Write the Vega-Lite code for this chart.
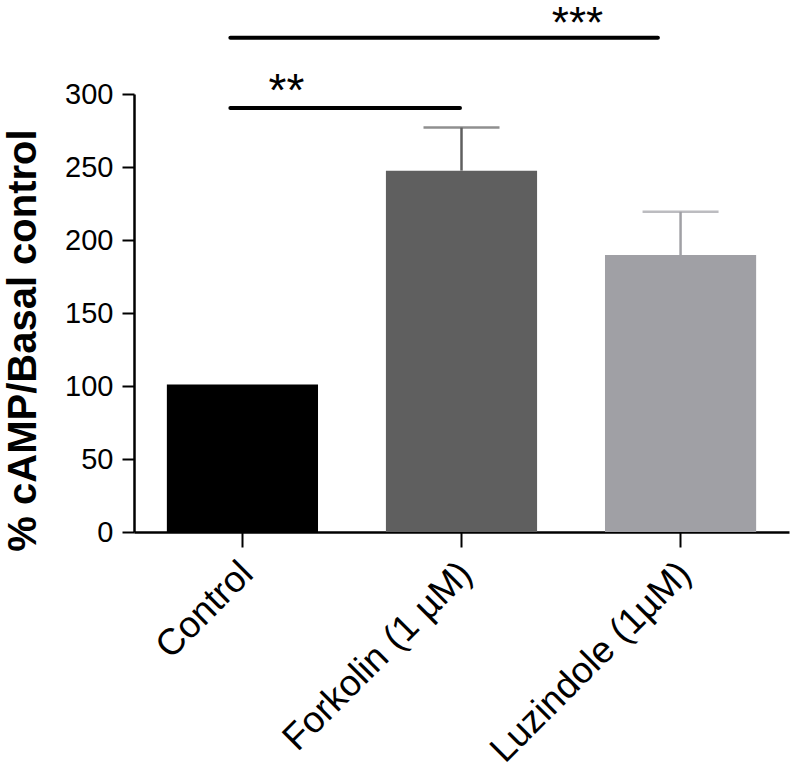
{
  "$schema": "https://vega.github.io/schema/vega-lite/v6.json",
  "width": 655,
  "height": 438,
  "autosize": {"type": "none"},
  "padding": {"left": 134, "top": 94, "right": 11, "bottom": 239},
  "background": "white",
  "config": {"view": {"stroke": null}, "font": "Liberation Sans"},
  "datasets": {
    "bars": [
      {"group": "Control", "mean": 101},
      {"group": "Forkolin (1 µM)", "mean": 247.5, "upper": 277},
      {"group": "Luzindole (1µM)", "mean": 189.7, "upper": 219.3}
    ]
  },
  "layer": [
    {
      "data": {"name": "bars"},
      "mark": {"type": "bar"},
      "encoding": {
        "x": {
          "field": "group", "type": "nominal", "sort": null,
          "scale": {"domain": ["Control", "Forkolin (1 µM)", "Luzindole (1µM)"], "paddingInner": 0.31, "paddingOuter": 0.15},
          "axis": {
            "title": null, "labelAngle": -45, "labelFontSize": 37, "labelColor": "black",
            "labelPadding": 8, "labelOffset": -8, "labelLimit": 0, "domainColor": "black", "domainWidth": 2.5,
            "tickColor": "black", "tickWidth": 2, "tickSize": 15, "labelFont": "Liberation Sans"
          }
        },
        "y": {
          "field": "mean", "type": "quantitative",
          "scale": {"domain": [0, 300], "nice": false},
          "axis": {
            "values": [0, 50, 100, 150, 200, 250, 300], "grid": false,
            "title": "% cAMP/Basal control", "titleFontSize": 40, "titleFontWeight": "bold",
            "titleColor": "black", "titleX": -99, "titleY": 246, "titleAngle": -90,
            "titleAlign": "center", "titleBaseline": "alphabetic",
            "labelFontSize": 29, "labelColor": "black", "labelPadding": 9,
            "domainColor": "black", "domainWidth": 2.5, "tickColor": "black",
            "tickWidth": 2, "tickSize": 12
          }
        },
        "color": {
          "field": "group", "type": "nominal", "sort": null,
          "scale": {"domain": ["Control", "Forkolin (1 µM)", "Luzindole (1µM)"], "range": ["#000000", "#5f5f5f", "#a0a0a5"]},
          "legend": null
        }
      }
    },
    {
      "data": {"name": "bars"},
      "transform": [{"filter": "isValid(datum.upper)"}],
      "mark": {"type": "rule", "strokeWidth": 2.5},
      "encoding": {
        "x": {"field": "group", "type": "nominal", "sort": null},
        "y": {"field": "mean", "type": "quantitative"},
        "y2": {"field": "upper"},
        "color": {"field": "group", "type": "nominal", "sort": null, "legend": null}
      }
    },
    {
      "data": {"name": "bars"},
      "transform": [{"filter": "isValid(datum.upper)"}],
      "mark": {"type": "tick", "size": 76, "thickness": 2.5},
      "encoding": {
        "x": {"field": "group", "type": "nominal", "sort": null},
        "y": {"field": "upper", "type": "quantitative"},
        "color": {"field": "group", "type": "nominal", "sort": null, "legend": null}
      }
    },
    {
      "data": {"values": [{"from": "Control", "to": "Forkolin (1 µM)", "level": 290.4}]},
      "mark": {"type": "rule", "strokeWidth": 4, "strokeCap": "round", "color": "black"},
      "encoding": {
        "x": {"field": "from", "type": "nominal", "bandPosition": 0.42},
        "x2": {"field": "to", "bandPosition": 0.49},
        "y": {"field": "level", "type": "quantitative"}
      }
    },
    {
      "data": {"values": [{"from": "Control", "to": "Luzindole (1µM)", "level": 338.6}]},
      "mark": {"type": "rule", "strokeWidth": 4, "strokeCap": "round", "color": "black"},
      "encoding": {
        "x": {"field": "from", "type": "nominal", "bandPosition": 0.42},
        "x2": {"field": "to", "bandPosition": 0.35},
        "y": {"field": "level", "type": "quantitative"}
      }
    },
    {
      "data": {"values": [{"from": "Control", "level": 290.4, "star": "**"}]},
      "mark": {"type": "text", "fontSize": 46, "dx": 44, "dy": -2, "baseline": "alphabetic", "align": "center", "color": "black"},
      "encoding": {
        "x": {"field": "from", "type": "nominal"},
        "y": {"field": "level", "type": "quantitative"},
        "text": {"field": "star"}
      }
    },
    {
      "data": {"values": [{"from": "Forkolin (1 µM)", "level": 338.6, "star": "***"}]},
      "mark": {"type": "text", "fontSize": 44, "dx": 116, "dy": 0, "baseline": "alphabetic", "align": "center", "color": "black"},
      "encoding": {
        "x": {"field": "from", "type": "nominal"},
        "y": {"field": "level", "type": "quantitative"},
        "text": {"field": "star"}
      }
    }
  ]
}
